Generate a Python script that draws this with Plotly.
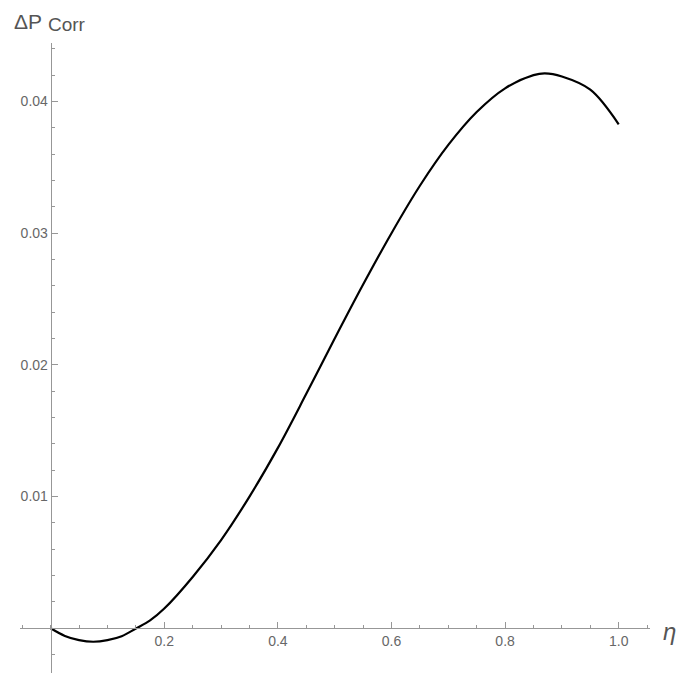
import plotly.graph_objects as go

# Correlation correction ΔP_Corr as a function of η
eta = [0.0, 0.025, 0.05, 0.075, 0.1, 0.125, 0.15, 0.175, 0.2, 0.25, 0.3,
       0.35, 0.4, 0.45, 0.5, 0.55, 0.6, 0.65, 0.7, 0.75, 0.8, 0.85, 0.87,
       0.9, 0.95, 1.0]
dp_corr = [0.0, -0.00058, -0.0009, -0.00102, -0.0009, -0.0006, -0.00002,
           0.0006, 0.0015, 0.0039, 0.0067, 0.0100, 0.0137, 0.0178, 0.0220,
           0.0261, 0.0300, 0.0336, 0.0367, 0.0392, 0.0410, 0.0420, 0.04214,
           0.0419, 0.0409, 0.03827]

x_tickvals = [0.2, 0.4, 0.6, 0.8, 1.0]
x_ticktext = ["0.2", "0.4", "0.6", "0.8", "1.0"]
y_tickvals = [0.01, 0.02, 0.03, 0.04]
y_ticktext = ["0.01", "0.02", "0.03", "0.04"]

x_range = [-0.0540, 1.0551]
y_range = [-0.003394, 0.04444]

axis_gray = "#979797"
label_gray = "#676767"
font_family = "Liberation Sans, Arial, sans-serif"

fig = go.Figure()
fig.add_trace(go.Scatter(
    x=eta, y=dp_corr, mode="lines",
    line=dict(color="black", width=2.2, shape="spline", smoothing=1.0),
    hoverinfo="skip", showlegend=False,
))

# axes cross at the origin
x_pos = (0 - y_range[0]) / (y_range[1] - y_range[0])
y_pos = (0 - x_range[0]) / (x_range[1] - x_range[0])

fig.update_layout(
    width=678, height=674,
    margin=dict(l=20, r=28, t=43, b=1),
    paper_bgcolor="white", plot_bgcolor="white",
    font=dict(family=font_family, size=14, color=label_gray),
    xaxis=dict(
        range=x_range, anchor="free", position=x_pos,
        showgrid=False, zeroline=False,
        showline=True, linecolor=axis_gray, linewidth=1,
        tickvals=x_tickvals, ticktext=x_ticktext,
        ticks="inside", ticklen=6, tickwidth=1, tickcolor=axis_gray,
        tickfont=dict(size=14, color=label_gray),
        minor=dict(ticks="inside", ticklen=3, tickwidth=1,
                   tickcolor=axis_gray, tick0=0, dtick=0.05, showgrid=False),
    ),
    yaxis=dict(
        range=y_range, anchor="free", position=y_pos,
        showgrid=False, zeroline=False,
        showline=True, linecolor=axis_gray, linewidth=1,
        tickvals=y_tickvals, ticktext=y_ticktext,
        ticks="inside", ticklen=6, tickwidth=1, tickcolor=axis_gray,
        tickfont=dict(size=14, color=label_gray),
        minor=dict(ticks="inside", ticklen=3, tickwidth=1,
                   tickcolor=axis_gray, tick0=0, dtick=0.002, showgrid=False),
    ),
)

# axis labels
fig.add_annotation(
    x=x_range[1], y=0, xref="x", yref="y",
    text="<i>η</i>", showarrow=False,
    xanchor="left", yanchor="middle", xshift=11, yshift=-3,
    font=dict(family=font_family, size=24, color="#555555"),
)
fig.add_annotation(
    x=0, y=y_range[1], xref="x", yref="y",
    text="ΔP", showarrow=False,
    xanchor="right", yanchor="bottom", xshift=-7, yshift=8,
    font=dict(family=font_family, size=21, color="#555555"),
)
fig.add_annotation(
    x=0, y=y_range[1], xref="x", yref="y",
    text="Corr", showarrow=False,
    xanchor="left", yanchor="bottom", xshift=-5, yshift=6,
    font=dict(family=font_family, size=19, color="#555555"),
)

fig.write_html("out.html")
